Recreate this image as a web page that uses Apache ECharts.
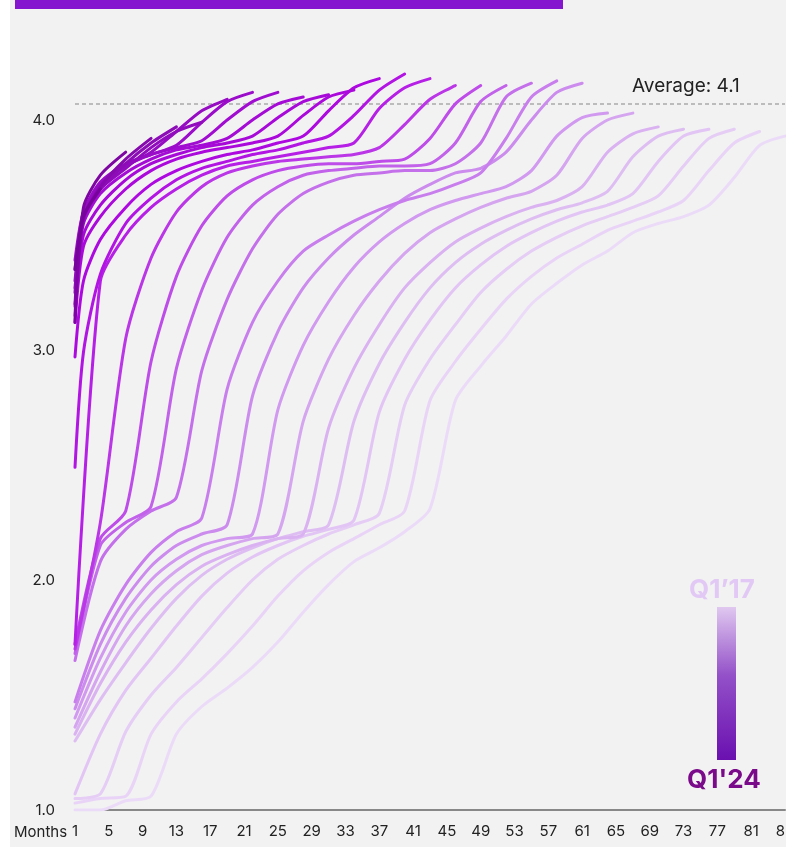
<!DOCTYPE html>
<html>
<head>
<meta charset="utf-8">
<script src="https://cdn.jsdelivr.net/npm/echarts@6/dist/echarts.min.js"></script>
<style>
  html, body { margin: 0; padding: 0; background: #fff; }
  #chart { width: 786px; height: 847px; }
</style>
</head>
<body>
<div id="chart"></div>
<script>
// months since start, one reading per quarter
const months = [1, 4, 7, 10, 13, 16, 19, 22, 25, 28, 31, 34, 37, 40, 43, 46, 49, 52, 55, 58, 61, 64, 67, 70, 73, 76, 79, 82, 85];
const cohorts = ["Q1'17", "Q2'17", "Q3'17", "Q4'17", "Q1'18", "Q2'18", "Q3'18", "Q4'18",
  "Q1'19", "Q2'19", "Q3'19", "Q4'19", "Q1'20", "Q2'20", "Q3'20", "Q4'20",
  "Q1'21", "Q2'21", "Q3'21", "Q4'21", "Q1'22", "Q2'22", "Q3'22", "Q4'22",
  "Q1'23", "Q2'23", "Q3'23", "Q4'23", "Q1'24"];

// older cohorts: one value per quarter, from month 1
const q1_17 = [1.00, 1.00, 1.04, 1.06, 1.33, 1.45, 1.53, 1.62, 1.73, 1.86, 1.98, 2.08, 2.14, 2.21, 2.31, 2.78, 2.93, 3.06, 3.20, 3.29, 3.37, 3.43, 3.51, 3.55, 3.58, 3.63, 3.75, 3.89, 3.93];
const q2_17 = [1.03, 1.05, 1.06, 1.33, 1.47, 1.57, 1.68, 1.80, 1.93, 2.04, 2.12, 2.18, 2.24, 2.30, 2.78, 2.95, 3.09, 3.22, 3.32, 3.40, 3.46, 3.52, 3.56, 3.60, 3.65, 3.78, 3.90, 3.95];
const q3_17 = [1.05, 1.07, 1.34, 1.50, 1.62, 1.75, 1.88, 2.00, 2.09, 2.15, 2.20, 2.24, 2.29, 2.76, 2.96, 3.11, 3.25, 3.35, 3.43, 3.49, 3.54, 3.58, 3.62, 3.67, 3.80, 3.92, 3.96];
const q4_17 = [1.07, 1.33, 1.52, 1.66, 1.80, 1.93, 2.03, 2.10, 2.15, 2.19, 2.22, 2.26, 2.73, 2.96, 3.13, 3.27, 3.37, 3.45, 3.51, 3.56, 3.60, 3.63, 3.68, 3.82, 3.93, 3.96];
const q1_18 = [1.30, 1.48, 1.64, 1.79, 1.92, 2.02, 2.09, 2.14, 2.18, 2.21, 2.24, 2.69, 2.94, 3.12, 3.27, 3.38, 3.46, 3.52, 3.57, 3.61, 3.64, 3.69, 3.84, 3.93, 3.96];
const q2_18 = [1.33, 1.55, 1.73, 1.87, 1.98, 2.06, 2.11, 2.15, 2.18, 2.20, 2.66, 2.92, 3.11, 3.27, 3.38, 3.47, 3.53, 3.58, 3.62, 3.65, 3.71, 3.86, 3.94, 3.97];
const q3_18 = [1.36, 1.60, 1.80, 1.94, 2.04, 2.11, 2.15, 2.18, 2.20, 2.69, 2.96, 3.15, 3.30, 3.42, 3.51, 3.57, 3.62, 3.66, 3.69, 3.76, 3.92, 4.00, 4.03];
const q4_18 = [1.40, 1.66, 1.86, 2.00, 2.09, 2.15, 2.18, 2.20, 2.74, 3.02, 3.21, 3.36, 3.47, 3.55, 3.61, 3.65, 3.68, 3.71, 3.78, 3.93, 4.01, 4.03];
const q1_19 = [1.44, 1.72, 1.92, 2.06, 2.15, 2.20, 2.24, 2.80, 3.08, 3.27, 3.40, 3.50, 3.58, 3.66, 3.72, 3.77, 3.79, 3.86, 4.00, 4.12, 4.16];
const q2_19 = [1.47, 1.78, 1.98, 2.12, 2.21, 2.27, 2.83, 3.12, 3.30, 3.43, 3.50, 3.56, 3.61, 3.65, 3.68, 3.72, 3.77, 3.92, 4.10, 4.17];
const q3_19 = [1.65, 2.08, 2.22, 2.30, 2.36, 2.91, 3.22, 3.44, 3.59, 3.68, 3.73, 3.76, 3.77, 3.78, 3.78, 3.81, 3.90, 4.10, 4.16];
const q4_19 = [1.68, 2.15, 2.25, 2.32, 2.92, 3.26, 3.49, 3.63, 3.71, 3.76, 3.78, 3.79, 3.80, 3.80, 3.81, 3.90, 4.08, 4.15];
const q1_20 = [1.72, 2.18, 2.30, 2.95, 3.32, 3.54, 3.67, 3.74, 3.78, 3.80, 3.81, 3.81, 3.82, 3.83, 3.92, 4.07, 4.15];
const q2_20 = [1.70, 2.25, 3.05, 3.40, 3.60, 3.71, 3.77, 3.80, 3.82, 3.83, 3.84, 3.85, 3.88, 3.98, 4.09, 4.15];
const q3_20 = [1.72, 3.30, 3.50, 3.62, 3.70, 3.76, 3.80, 3.82, 3.84, 3.86, 3.88, 3.90, 4.05, 4.14, 4.18];

// newer cohorts: [month, value] readings, with an extra one at month 2
const q4_20 = [[1, 2.49], [2, 2.99], [4, 3.33], [7, 3.55], [10, 3.66], [13, 3.74], [16, 3.79], [19, 3.82], [22, 3.85], [25, 3.87], [28, 3.90], [31, 3.93], [34, 4.02], [37, 4.13], [40, 4.20]];
const q1_21 = [[1, 2.97], [2, 3.30], [4, 3.48], [7, 3.62], [10, 3.72], [13, 3.78], [16, 3.82], [19, 3.85], [22, 3.87], [25, 3.90], [28, 3.93], [31, 4.04], [34, 4.14], [37, 4.18]];
const q2_21 = [[1, 3.12], [2, 3.45], [4, 3.58], [7, 3.70], [10, 3.78], [13, 3.83], [16, 3.86], [19, 3.88], [22, 3.90], [25, 3.93], [28, 4.02], [31, 4.10], [34, 4.13]];
const q3_21 = [[1, 3.19], [2, 3.50], [4, 3.63], [7, 3.74], [10, 3.81], [13, 3.85], [16, 3.88], [19, 3.90], [22, 3.93], [25, 4.01], [28, 4.08], [31, 4.11]];
const q4_21 = [[1, 3.27], [2, 3.55], [4, 3.68], [7, 3.77], [10, 3.83], [13, 3.87], [16, 3.89], [19, 3.92], [22, 4.00], [25, 4.07], [28, 4.10]];
const q1_22 = [[1, 3.39], [2, 3.60], [4, 3.72], [7, 3.80], [10, 3.85], [13, 3.88], [16, 3.91], [19, 4.00], [22, 4.08], [25, 4.12]];
const q2_22 = [[1, 3.35], [2, 3.60], [4, 3.73], [7, 3.81], [10, 3.85], [13, 3.89], [16, 3.99], [19, 4.08], [22, 4.12]];
const q3_22 = [[1, 3.30], [2, 3.58], [4, 3.72], [7, 3.80], [10, 3.86], [13, 3.95], [16, 4.04], [19, 4.09]];
const q4_22 = [[1, 3.25], [2, 3.57], [4, 3.70], [7, 3.79], [10, 3.88], [13, 3.95], [16, 3.99]];
const q1_23 = [[1, 3.20], [2, 3.58], [4, 3.70], [7, 3.81], [10, 3.90], [13, 3.97]];
const q2_23 = [[1, 3.15], [2, 3.57], [4, 3.71], [7, 3.83], [10, 3.92]];
const q3_23 = [[1, 3.12], [2, 3.62], [4, 3.76], [7, 3.86]];
const q4_23 = [[1, 3.35], [2, 3.58], [4, 3.70]];
const q1_24 = [[1, 3.40]];

const cohortValues = [q1_17, q2_17, q3_17, q4_17, q1_18, q2_18, q3_18, q4_18, q1_19, q2_19,
  q3_19, q4_19, q1_20, q2_20, q3_20, q4_20, q1_21, q2_21, q3_21, q4_21, q1_22, q2_22,
  q3_22, q4_22, q1_23, q2_23, q3_23, q4_23, q1_24];

const averageValue = 4.07;
const yTicks = [1, 2, 3, 4];

// colour ramp, oldest cohort -> newest
const colorStops = [
  [0, [236, 219, 248]], [4, [222, 190, 242]], [8, [204, 140, 238]], [11, [194, 98, 234]],
  [14, [182, 32, 230]], [16, [174, 8, 224]], [20, [160, 12, 208]], [24, [140, 12, 182]], [28, [110, 0, 144]]
];
function cohortColor(k) {
  for (let i = 0; i < colorStops.length - 1; i++) {
    const [a, ca] = colorStops[i], [b, cb] = colorStops[i + 1];
    if (k >= a && k <= b) {
      const t = (k - a) / (b - a);
      const c = ca.map((v, j) => Math.round(v + (cb[j] - v) * t));
      return 'rgb(' + c.join(',') + ')';
    }
  }
  return 'rgb(110,0,144)';
}

const series = cohortValues.map((vals, k) => ({
  name: cohorts[k],
  type: 'line',
  data: vals.map((v, i) => (Array.isArray(v) ? v : [months[i], v])),
  showSymbol: false,
  symbol: 'none',
  smooth: 0.25,
  z: 2 + k,
  lineStyle: { color: cohortColor(k), width: 3, cap: 'round', join: 'round' },
  itemStyle: { color: cohortColor(k) },
  silent: true
}));

series.push({
  type: 'line',
  data: [],
  markLine: {
    silent: true,
    symbol: 'none',
    label: { show: false },
    lineStyle: { color: '#aaaaaa', type: [4, 3], width: 1.5 },
    data: [{ yAxis: averageValue }]
  }
});

const font = 'Inter, "Noto Sans", sans-serif';
const chart = echarts.init(document.getElementById('chart'));
chart.setOption({
  backgroundColor: '#ffffff',
  animation: false,
  textStyle: { fontFamily: font },
  grid: { left: 75, right: 1, top: 51, bottom: 37, containLabel: false, outerBoundsMode: 'none' },
  xAxis: {
    type: 'value',
    min: 1,
    max: 85,
    interval: 4,
    axisLine: { show: true, lineStyle: { color: '#888888', width: 2 } },
    axisTick: { show: false },
    splitLine: { show: false },
    axisLabel: { color: '#222222', fontSize: 15, margin: 14 }
  },
  yAxis: {
    type: 'value',
    min: 1,
    max: 4.3,
    interval: 1,
    axisLine: { show: false },
    axisTick: { show: false },
    splitLine: { show: false },
    axisLabel: {
      color: '#222222', fontSize: 15, margin: 20,
      formatter: v => (yTicks.indexOf(v) >= 0 ? v.toFixed(1) : '')
    }
  },
  graphic: [
    { type: 'rect', z: -10, shape: { x: 10, y: 0, width: 776, height: 847 }, style: { fill: '#f2f2f2' } },
    { type: 'rect', z: -9, shape: { x: 15, y: 0, width: 548, height: 9 }, style: { fill: '#8515cf' } },
    { type: 'text', left: 14, top: 825, style: { text: 'Months', fill: '#222222', font: '15px ' + font } },
    { type: 'text', left: 632, top: 77, style: { text: 'Average: 4.1', fill: '#222222', font: '19px ' + font } },
    { type: 'text', left: 689, top: 577, style: { text: 'Q1\u201917', fill: '#e2c8f4', font: 'bold 26px ' + font } },
    { type: 'text', left: 687, top: 767, style: { text: "Q1'24", fill: '#7a0a8a', font: 'bold 26px ' + font } },
    {
      type: 'rect', shape: { x: 717, y: 607, width: 19, height: 153 },
      style: {
        fill: new echarts.graphic.LinearGradient(0, 0, 0, 1, [
          { offset: 0, color: '#e0c8f0' },
          { offset: 0.45, color: '#9350c8' },
          { offset: 1, color: '#6a10b0' }
        ])
      }
    }
  ],
  series: series
});
</script>
</body>
</html>
